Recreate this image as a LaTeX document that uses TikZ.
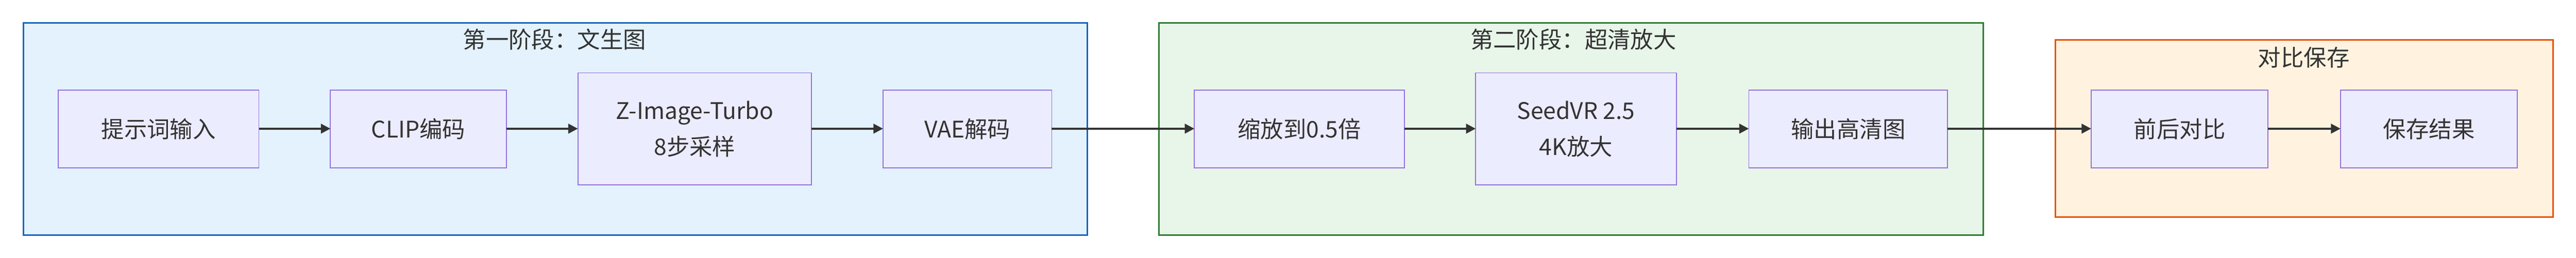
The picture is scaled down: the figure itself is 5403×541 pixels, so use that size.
\documentclass[tikz,border=0pt]{standalone}
\usepackage{fontspec}
\setmainfont{Noto Sans CJK SC}
\usetikzlibrary{arrows.meta}
\definecolor{c1f}{HTML}{E3F2FD}\definecolor{c1s}{HTML}{1565C0}
\definecolor{c2f}{HTML}{E8F5E9}\definecolor{c2s}{HTML}{2E7D32}
\definecolor{c3f}{HTML}{FFF3E0}\definecolor{c3s}{HTML}{E65100}
\definecolor{nf}{HTML}{ECECFF}\definecolor{ns}{HTML}{9370DB}
\definecolor{ed}{HTML}{333333}
\begin{document}
\begin{tikzpicture}[x=0.25pt,y=-0.25pt,
  clu/.style={line width=0.8pt},
  box/.style={draw=ns,fill=nf,line width=0.5pt},
  lab/.style={font=\fontsize{12}{19}\selectfont,text=ed,align=center},
  tit/.style={font=\fontsize{12}{17}\selectfont,text=ed},
  e/.style={draw=ed,line width=1pt,-{Triangle[length=5pt,width=5pt]}}]
\useasboundingbox (0,0) rectangle (5403,541);
\filldraw[clu,fill=c1f,draw=c1s] (49,48) rectangle (2281,493);
\filldraw[clu,fill=c2f,draw=c2s] (2431,48) rectangle (4160,493);
\filldraw[clu,fill=c3f,draw=c3s] (4311,84) rectangle (5355,456);
\node[tit] (t1) at (1163,83) {第一阶段：文生图};
\node[tit] (t2) at (3300,83) {第二阶段：超清放大};
\node[tit] (t3) at (4832,121) {对比保存};
\path[box] (122,189) rectangle (543,352) node[midway,lab] (n1) {提示词输入};
\path[box] (693,189) rectangle (1062,352) node[midway,lab] (n2) {CLIP编码};
\path[box] (1212,153) rectangle (1702,388) node[midway,lab] (n3) {Z-Image-Turbo\\8步采样};
\path[box] (1852,189) rectangle (2206,352) node[midway,lab] (n4) {VAE解码};
\path[box] (2505,189) rectangle (2946,352) node[midway,lab] (n5) {缩放到0.5倍};
\path[box] (3095,153) rectangle (3516,388) node[midway,lab] (n6) {SeedVR 2.5\\4K放大};
\path[box] (3668,189) rectangle (4085,352) node[midway,lab] (n7) {输出高清图};
\path[box] (4386,189) rectangle (4757,352) node[midway,lab] (n8) {前后对比};
\path[box] (4909,189) rectangle (5280,352) node[midway,lab] (n9) {保存结果};
\coordinate (a1) at (543,270);\coordinate (b1) at (693,270);
\coordinate (a2) at (1062,270);\coordinate (b2) at (1212,270);
\coordinate (a3) at (1702,270);\coordinate (b3) at (1852,270);
\coordinate (a4) at (2206,270);\coordinate (b4) at (2505,270);
\coordinate (a5) at (2946,270);\coordinate (b5) at (3095,270);
\coordinate (a6) at (3516,270);\coordinate (b6) at (3668,270);
\coordinate (a7) at (4085,270);\coordinate (b7) at (4386,270);
\coordinate (a8) at (4757,270);\coordinate (b8) at (4909,270);
\foreach \i in {1,...,8} \draw[e] (a\i) -- (b\i);
\end{tikzpicture}
\end{document}
